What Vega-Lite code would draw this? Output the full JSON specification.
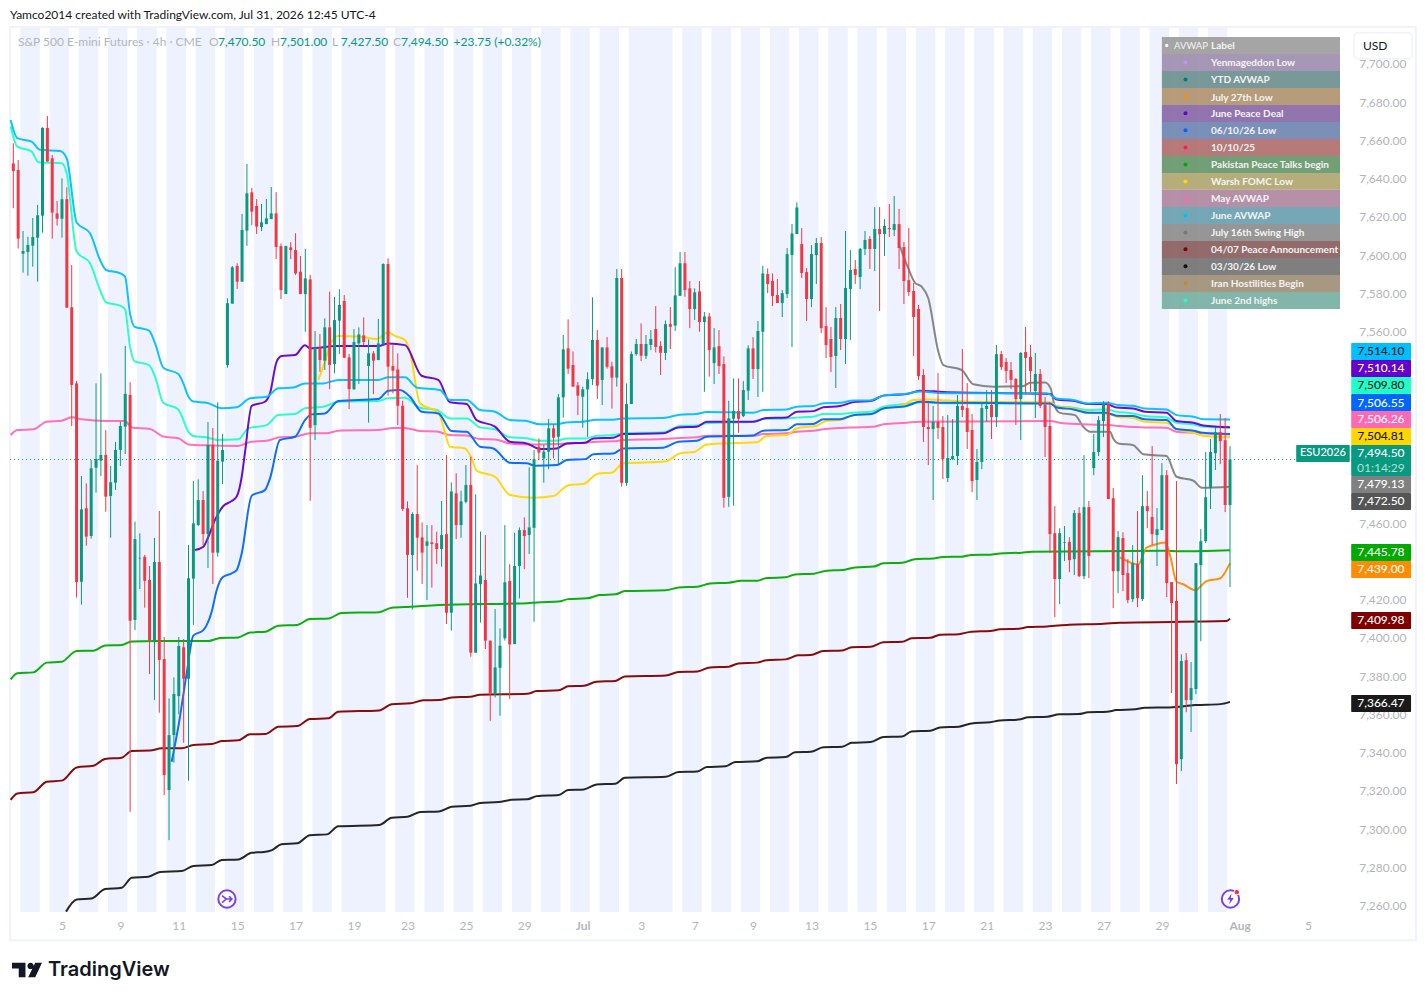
{
"$schema":"https://vega.github.io/schema/vega-lite/v6.json",
"width":1426,"height":1000,"padding":0,
"autosize":{"type":"fit","contains":"padding"},
"background":"#ffffff",
"config":{"view":{"stroke":null},"legend":{"disable":true}},
"datasets":{
"sessions":[{"i":1.45,"i2":5.45,"p":7718.8,"p2":7256.6},{"i":7.45,"i2":11.45,"p":7718.8,"p2":7256.6},{"i":13.45,"i2":17.45,"p":7718.8,"p2":7256.6},{"i":19.45,"i2":23.45,"p":7718.8,"p2":7256.6},{"i":25.45,"i2":29.45,"p":7718.8,"p2":7256.6},{"i":31.45,"i2":35.45,"p":7718.8,"p2":7256.6},{"i":37.45,"i2":41.45,"p":7718.8,"p2":7256.6},{"i":43.45,"i2":47.45,"p":7718.8,"p2":7256.6},{"i":49.45,"i2":53.45,"p":7718.8,"p2":7256.6},{"i":55.45,"i2":59.45,"p":7718.8,"p2":7256.6},{"i":61.45,"i2":65.45,"p":7718.8,"p2":7256.6},{"i":67.45,"i2":76.45,"p":7718.8,"p2":7256.6},{"i":78.45,"i2":82.45,"p":7718.8,"p2":7256.6},{"i":84.45,"i2":88.45,"p":7718.8,"p2":7256.6},{"i":90.45,"i2":94.45,"p":7718.8,"p2":7256.6},{"i":96.45,"i2":100.45,"p":7718.8,"p2":7256.6},{"i":102.45,"i2":106.45,"p":7718.8,"p2":7256.6},{"i":108.45,"i2":112.45,"p":7718.8,"p2":7256.6},{"i":114.45,"i2":118.45,"p":7718.8,"p2":7256.6},{"i":120.45,"i2":124.45,"p":7718.8,"p2":7256.6},{"i":126.45,"i2":135.45,"p":7718.8,"p2":7256.6},{"i":137.45,"i2":141.45,"p":7718.8,"p2":7256.6},{"i":143.45,"i2":147.45,"p":7718.8,"p2":7256.6},{"i":149.45,"i2":153.45,"p":7718.8,"p2":7256.6},{"i":155.45,"i2":159.45,"p":7718.8,"p2":7256.6},{"i":161.45,"i2":165.45,"p":7718.8,"p2":7256.6},{"i":167.45,"i2":171.45,"p":7718.8,"p2":7256.6},{"i":173.45,"i2":177.45,"p":7718.8,"p2":7256.6},{"i":179.45,"i2":183.45,"p":7718.8,"p2":7256.6},{"i":185.45,"i2":189.45,"p":7718.8,"p2":7256.6},{"i":191.45,"i2":195.45,"p":7718.8,"p2":7256.6},{"i":197.45,"i2":201.45,"p":7718.8,"p2":7256.6},{"i":203.45,"i2":207.45,"p":7718.8,"p2":7256.6},{"i":209.45,"i2":213.45,"p":7718.8,"p2":7256.6},{"i":215.45,"i2":219.45,"p":7718.8,"p2":7256.6},{"i":221.45,"i2":225.45,"p":7718.8,"p2":7256.6},{"i":227.45,"i2":231.45,"p":7718.8,"p2":7256.6},{"i":233.45,"i2":237.45,"p":7718.8,"p2":7256.6},{"i":239.45,"i2":243.45,"p":7718.8,"p2":7256.6},{"i":245.45,"i2":249.45,"p":7718.8,"p2":7256.6}],
"bars":[
{"i":0,"o":7648,"h":7658.5,"l":7624.6,"c":7644},
{"i":1,"o":7644.6,"h":7649.8,"l":7603.5,"c":7608.7},
{"i":2,"o":7600.8,"h":7612.7,"l":7590.9,"c":7602.2},
{"i":3,"o":7601.7,"h":7609.7,"l":7589.3,"c":7605.4},
{"i":4,"o":7605,"h":7619.5,"l":7594,"c":7609.5},
{"i":5,"o":7609.2,"h":7626.3,"l":7586.2,"c":7620.9},
{"i":6,"o":7620.7,"h":7666.9,"l":7611.8,"c":7666.6},
{"i":7,"o":7666.6,"h":7672.8,"l":7649,"c":7649},
{"i":8,"o":7650.7,"h":7652.4,"l":7608.7,"c":7622.3},
{"i":9,"o":7621.9,"h":7628.4,"l":7615.5,"c":7619.1},
{"i":10,"o":7619.1,"h":7640.2,"l":7609.2,"c":7629.3},
{"i":11,"o":7629.3,"h":7635.5,"l":7572.6,"c":7572.6},
{"i":12,"o":7572.8,"h":7594.9,"l":7510.7,"c":7532.2},
{"i":13,"o":7533,"h":7534.3,"l":7421,"c":7429.1},
{"i":14,"o":7429.3,"h":7484.6,"l":7417.3,"c":7467.1},
{"i":15,"o":7467.7,"h":7480.7,"l":7448.1,"c":7452.9},
{"i":16,"o":7453.2,"h":7492.9,"l":7451.8,"c":7488.6},
{"i":17,"o":7488.9,"h":7533,"l":7475.9,"c":7493.5},
{"i":18,"o":7492.6,"h":7538.3,"l":7484.6,"c":7495.6},
{"i":19,"o":7495.6,"h":7508.6,"l":7465.9,"c":7473.8},
{"i":20,"o":7474.1,"h":7489.8,"l":7452.3,"c":7481.3},
{"i":21,"o":7481.1,"h":7502.4,"l":7477.3,"c":7498.2},
{"i":22,"o":7498.2,"h":7513,"l":7489.8,"c":7510.7},
{"i":23,"o":7510.4,"h":7552.6,"l":7496.1,"c":7527.5},
{"i":24,"o":7527,"h":7533.7,"l":7309,"c":7408.9},
{"i":25,"o":7409.3,"h":7460.7,"l":7404,"c":7451.6},
{"i":26,"o":7441.5,"h":7454.6,"l":7425.5,"c":7441.8},
{"i":27,"o":7442.4,"h":7443.3,"l":7415.7,"c":7429.8},
{"i":28,"o":7430.2,"h":7437.5,"l":7381,"c":7398.8},
{"i":29,"o":7398.8,"h":7452.2,"l":7367.4,"c":7439.6},
{"i":30,"o":7439.6,"h":7466.3,"l":7360.8,"c":7388.4},
{"i":31,"o":7388.9,"h":7400.4,"l":7317.8,"c":7328.2},
{"i":32,"o":7320.4,"h":7368.3,"l":7294.2,"c":7349.1},
{"i":33,"o":7349.1,"h":7379.3,"l":7334.7,"c":7370.6},
{"i":34,"o":7369.5,"h":7400.4,"l":7360,"c":7395.7},
{"i":35,"o":7395,"h":7399.3,"l":7345.1,"c":7378.6},
{"i":36,"o":7378.6,"h":7448.5,"l":7325.3,"c":7431.1},
{"i":37,"o":7430.9,"h":7482,"l":7406.7,"c":7459.8},
{"i":38,"o":7459,"h":7482.8,"l":7458.4,"c":7472},
{"i":39,"o":7472,"h":7476.7,"l":7448.5,"c":7454.2},
{"i":40,"o":7454.2,"h":7512.8,"l":7436.5,"c":7500.8},
{"i":41,"o":7500.8,"h":7509.7,"l":7428.1,"c":7444.5},
{"i":42,"o":7444.5,"h":7523.1,"l":7442.4,"c":7492.6},
{"i":43,"o":7492.1,"h":7506.6,"l":7480.4,"c":7498.2},
{"i":44,"o":7542.6,"h":7577.5,"l":7541.2,"c":7574.9},
{"i":45,"o":7574.7,"h":7594.4,"l":7574.7,"c":7593.7},
{"i":46,"o":7594.4,"h":7595.8,"l":7582.4,"c":7586.2},
{"i":47,"o":7586.2,"h":7621.6,"l":7586.2,"c":7613.2},
{"i":48,"o":7612.9,"h":7647.7,"l":7604.9,"c":7632.4},
{"i":49,"o":7632.9,"h":7635.2,"l":7615.8,"c":7622.8},
{"i":50,"o":7625.8,"h":7629.4,"l":7611.1,"c":7615},
{"i":51,"o":7614.8,"h":7626.8,"l":7612.6,"c":7617.2},
{"i":52,"o":7616.3,"h":7629.4,"l":7616.3,"c":7619.3},
{"i":53,"o":7618.9,"h":7635.7,"l":7618.9,"c":7621.9},
{"i":54,"o":7621.9,"h":7633,"l":7598,"c":7604.3},
{"i":55,"o":7604.8,"h":7606.2,"l":7577.1,"c":7581.8},
{"i":56,"o":7579.7,"h":7605,"l":7579.7,"c":7604.8},
{"i":57,"o":7604.1,"h":7606.8,"l":7598,"c":7602.7},
{"i":58,"o":7602.7,"h":7611.5,"l":7589.7,"c":7590.5},
{"i":59,"o":7591.4,"h":7599.6,"l":7579.7,"c":7579.7},
{"i":60,"o":7579.7,"h":7603.3,"l":7560,"c":7587.9},
{"i":61,"o":7587.4,"h":7589.7,"l":7471.6,"c":7509.8},
{"i":62,"o":7511.2,"h":7560.4,"l":7503.4,"c":7551.8},
{"i":63,"o":7551.8,"h":7558.8,"l":7539.1,"c":7545.2},
{"i":64,"o":7544.9,"h":7567,"l":7540,"c":7562.3},
{"i":65,"o":7562.3,"h":7581,"l":7530,"c":7542.6},
{"i":66,"o":7543.1,"h":7578.3,"l":7538.2,"c":7566.1},
{"i":67,"o":7565.8,"h":7582.2,"l":7548.4,"c":7574},
{"i":68,"o":7576.1,"h":7579.2,"l":7546.4,"c":7546.4},
{"i":69,"o":7546.6,"h":7548.4,"l":7519.6,"c":7530},
{"i":70,"o":7530,"h":7561.4,"l":7529.5,"c":7554.6},
{"i":71,"o":7553.9,"h":7562.3,"l":7532.7,"c":7558.6},
{"i":72,"o":7558.1,"h":7567.5,"l":7552.9,"c":7554.6},
{"i":73,"o":7542.1,"h":7556,"l":7512.5,"c":7548.7},
{"i":74,"o":7548.7,"h":7549.9,"l":7527.4,"c":7544.9},
{"i":75,"o":7545.2,"h":7566.7,"l":7545.2,"c":7553.9},
{"i":76,"o":7553.4,"h":7595.8,"l":7553.4,"c":7595.4},
{"i":77,"o":7595.4,"h":7598.4,"l":7526.6,"c":7541.7},
{"i":78,"o":7542.1,"h":7553,"l":7527.8,"c":7539.6},
{"i":79,"o":7540.3,"h":7548.7,"l":7511.2,"c":7521.3},
{"i":80,"o":7521.3,"h":7524,"l":7466.3,"c":7467.3},
{"i":81,"o":7467.7,"h":7471.3,"l":7420.9,"c":7443.3},
{"i":82,"o":7443.3,"h":7465.6,"l":7414.8,"c":7464.7},
{"i":83,"o":7464.7,"h":7490.3,"l":7435.1,"c":7452.3},
{"i":84,"o":7452.5,"h":7460.3,"l":7428.1,"c":7444.5},
{"i":85,"o":7448.1,"h":7458.9,"l":7419.7,"c":7450.4},
{"i":86,"o":7449.9,"h":7458.9,"l":7426.2,"c":7449},
{"i":87,"o":7449.4,"h":7455.5,"l":7438.6,"c":7446.4},
{"i":88,"o":7446.4,"h":7471.5,"l":7437.2,"c":7453.7},
{"i":89,"o":7454.2,"h":7495.5,"l":7407.2,"c":7413.1},
{"i":90,"o":7413.1,"h":7481.3,"l":7403.7,"c":7476.5},
{"i":91,"o":7475.5,"h":7486,"l":7451.6,"c":7458.9},
{"i":92,"o":7458.9,"h":7476.9,"l":7452.3,"c":7471.3},
{"i":93,"o":7471.1,"h":7490.3,"l":7470.3,"c":7479.9},
{"i":94,"o":7479.9,"h":7494.7,"l":7390.1,"c":7392.2},
{"i":95,"o":7392.2,"h":7475,"l":7392.2,"c":7428.4},
{"i":96,"o":7428,"h":7455.5,"l":7407.9,"c":7432.6},
{"i":97,"o":7430.2,"h":7453.7,"l":7394.1,"c":7398.5},
{"i":98,"o":7398.5,"h":7398.5,"l":7356.6,"c":7370.9},
{"i":99,"o":7370.9,"h":7415,"l":7368.8,"c":7384.5},
{"i":100,"o":7384.3,"h":7404.9,"l":7359.2,"c":7395.8},
{"i":101,"o":7399.7,"h":7458.9,"l":7398.5,"c":7429},
{"i":102,"o":7429.7,"h":7438.4,"l":7368,"c":7396.5},
{"i":103,"o":7396.7,"h":7454.9,"l":7396.7,"c":7437.5},
{"i":104,"o":7437.5,"h":7457.7,"l":7420.6,"c":7456.3},
{"i":105,"o":7456.3,"h":7463,"l":7435.9,"c":7453.2},
{"i":106,"o":7453.7,"h":7489.1,"l":7443.8,"c":7457.7},
{"i":107,"o":7457.5,"h":7498.2,"l":7408.4,"c":7493.3},
{"i":108,"o":7499.9,"h":7504.3,"l":7492.9,"c":7496.8},
{"i":109,"o":7493.8,"h":7500.8,"l":7481.1,"c":7497.3},
{"i":110,"o":7497.3,"h":7514.4,"l":7488.1,"c":7509.5},
{"i":111,"o":7509.5,"h":7511.7,"l":7493.8,"c":7504.6},
{"i":112,"o":7505.1,"h":7527.4,"l":7490.3,"c":7525.7},
{"i":113,"o":7525.7,"h":7558.3,"l":7515.1,"c":7550.8},
{"i":114,"o":7551.3,"h":7566.5,"l":7537.9,"c":7540.7},
{"i":115,"o":7542.6,"h":7549.7,"l":7531.3,"c":7531.3},
{"i":116,"o":7532,"h":7533.7,"l":7516.4,"c":7526.6},
{"i":117,"o":7526,"h":7531.3,"l":7509.8,"c":7529.9},
{"i":118,"o":7529.9,"h":7538.8,"l":7505.1,"c":7535.1},
{"i":119,"o":7535.3,"h":7578,"l":7532.1,"c":7555.7},
{"i":120,"o":7555.7,"h":7560.9,"l":7524.8,"c":7531.8},
{"i":121,"o":7534.8,"h":7551.8,"l":7521.7,"c":7551.8},
{"i":122,"o":7551.8,"h":7557.2,"l":7540.7,"c":7541.7},
{"i":123,"o":7541.9,"h":7544.3,"l":7519.8,"c":7536},
{"i":124,"o":7536,"h":7592.8,"l":7531.3,"c":7588.1},
{"i":125,"o":7588.1,"h":7592.8,"l":7479,"c":7481},
{"i":126,"o":7481,"h":7533,"l":7479.5,"c":7522.2},
{"i":127,"o":7522.2,"h":7549.7,"l":7522.2,"c":7548.3},
{"i":128,"o":7548.3,"h":7556.2,"l":7547.5,"c":7553.6},
{"i":129,"o":7553.6,"h":7564.4,"l":7544.7,"c":7547.5},
{"i":130,"o":7547.3,"h":7558.3,"l":7545.7,"c":7553.6},
{"i":131,"o":7553.1,"h":7560.9,"l":7550.4,"c":7556.2},
{"i":132,"o":7561.4,"h":7573.4,"l":7549.2,"c":7552},
{"i":133,"o":7552.5,"h":7555.1,"l":7537.4,"c":7549},
{"i":134,"o":7548.9,"h":7565.9,"l":7545.2,"c":7564},
{"i":135,"o":7564,"h":7572.9,"l":7551,"c":7562.6},
{"i":136,"o":7563.2,"h":7593.8,"l":7560.4,"c":7579},
{"i":137,"o":7578.8,"h":7601.7,"l":7578.8,"c":7595.8},
{"i":138,"o":7595.8,"h":7601.7,"l":7578.3,"c":7581.8},
{"i":139,"o":7582.7,"h":7586.5,"l":7561.9,"c":7571.9},
{"i":140,"o":7571.9,"h":7582.7,"l":7566.1,"c":7580.6},
{"i":141,"o":7581.1,"h":7586.5,"l":7560,"c":7565.1},
{"i":142,"o":7565.1,"h":7570.3,"l":7528.6,"c":7568},
{"i":143,"o":7568,"h":7569.8,"l":7536.5,"c":7550.4},
{"i":144,"o":7543.6,"h":7561.9,"l":7532.7,"c":7551.8},
{"i":145,"o":7552.5,"h":7560.9,"l":7537.9,"c":7542.1},
{"i":146,"o":7543.1,"h":7547.1,"l":7468,"c":7473.2},
{"i":147,"o":7473.7,"h":7523.9,"l":7468.5,"c":7514.7},
{"i":148,"o":7514.5,"h":7535.6,"l":7469,"c":7518.5},
{"i":149,"o":7518.5,"h":7535.6,"l":7507.2,"c":7514.5},
{"i":150,"o":7515.9,"h":7534.2,"l":7515.4,"c":7529.5},
{"i":151,"o":7529.2,"h":7552.9,"l":7524.3,"c":7551.3},
{"i":152,"o":7551.3,"h":7557.2,"l":7535.3,"c":7540.5},
{"i":153,"o":7540.5,"h":7565.6,"l":7525.9,"c":7560.4},
{"i":154,"o":7560,"h":7594.4,"l":7528.6,"c":7590.5},
{"i":155,"o":7590.2,"h":7593.1,"l":7580.2,"c":7585},
{"i":156,"o":7586.5,"h":7590.5,"l":7573.4,"c":7578.7},
{"i":157,"o":7579.2,"h":7587.6,"l":7575,"c":7575},
{"i":158,"o":7575,"h":7581.8,"l":7567.7,"c":7580.2},
{"i":159,"o":7579.7,"h":7603.8,"l":7577.6,"c":7600.6},
{"i":160,"o":7600.1,"h":7616.3,"l":7552,"c":7611.4},
{"i":161,"o":7611.1,"h":7627.6,"l":7611.1,"c":7625},
{"i":162,"o":7605.9,"h":7614.2,"l":7588.1,"c":7590.7},
{"i":163,"o":7591.2,"h":7593.3,"l":7565.6,"c":7577.1},
{"i":164,"o":7577.1,"h":7605.3,"l":7572.9,"c":7600.6},
{"i":165,"o":7600.1,"h":7609,"l":7585,"c":7606.4},
{"i":166,"o":7606.4,"h":7609.5,"l":7559.3,"c":7561.9},
{"i":167,"o":7563,"h":7572.9,"l":7546.3,"c":7553},
{"i":168,"o":7556.2,"h":7562.5,"l":7538.9,"c":7546.8},
{"i":169,"o":7547.3,"h":7572.9,"l":7530.6,"c":7567.2},
{"i":170,"o":7567.2,"h":7574.5,"l":7550.4,"c":7556.2},
{"i":171,"o":7556.2,"h":7612.7,"l":7543.1,"c":7582.9},
{"i":172,"o":7582.3,"h":7602.7,"l":7555.7,"c":7592.3},
{"i":173,"o":7592.8,"h":7597.5,"l":7585,"c":7589.7},
{"i":174,"o":7588.6,"h":7603.8,"l":7582.3,"c":7603.3},
{"i":175,"o":7603.3,"h":7612.7,"l":7600.1,"c":7608},
{"i":176,"o":7608.5,"h":7610,"l":7592.8,"c":7603.3},
{"i":177,"o":7603.3,"h":7625.2,"l":7591.7,"c":7613.7},
{"i":178,"o":7613.7,"h":7625.2,"l":7570.8,"c":7611.1},
{"i":179,"o":7611.1,"h":7618.9,"l":7599.6,"c":7615.3},
{"i":180,"o":7614.2,"h":7626.8,"l":7609.5,"c":7613.7},
{"i":181,"o":7613.2,"h":7631,"l":7610,"c":7616.3},
{"i":182,"o":7616.3,"h":7624.2,"l":7592.8,"c":7603.8},
{"i":183,"o":7604.3,"h":7606.9,"l":7574.5,"c":7586.5},
{"i":184,"o":7587,"h":7614.2,"l":7578.7,"c":7580.8},
{"i":185,"o":7581.3,"h":7585.5,"l":7547.3,"c":7567.7},
{"i":186,"o":7571.9,"h":7574,"l":7534.8,"c":7536.8},
{"i":187,"o":7537.4,"h":7540.5,"l":7502.3,"c":7510.2},
{"i":188,"o":7510.2,"h":7522.7,"l":7490.3,"c":7509.1},
{"i":189,"o":7509.1,"h":7521.2,"l":7472,"c":7512.8},
{"i":190,"o":7512.8,"h":7538.4,"l":7503.9,"c":7509.7},
{"i":191,"o":7510.2,"h":7515.9,"l":7483,"c":7493.4},
{"i":192,"o":7483.5,"h":7516.4,"l":7481.4,"c":7494},
{"i":193,"o":7493.4,"h":7514.4,"l":7492.9,"c":7495},
{"i":194,"o":7495,"h":7526.9,"l":7490.3,"c":7521.2},
{"i":195,"o":7521.2,"h":7551,"l":7515.4,"c":7519.1},
{"i":196,"o":7520.1,"h":7533.2,"l":7498.7,"c":7507.6},
{"i":197,"o":7508.6,"h":7517,"l":7476.2,"c":7481.9},
{"i":198,"o":7482.5,"h":7498.7,"l":7472,"c":7491.9},
{"i":199,"o":7491.9,"h":7522.7,"l":7488.2,"c":7520.1},
{"i":200,"o":7519.6,"h":7529.5,"l":7512.8,"c":7521.2},
{"i":201,"o":7521.7,"h":7529.5,"l":7503.9,"c":7515.4},
{"i":202,"o":7515.4,"h":7553.1,"l":7510.2,"c":7548.3},
{"i":203,"o":7548.3,"h":7549.9,"l":7540,"c":7541.5},
{"i":204,"o":7544.2,"h":7546.3,"l":7533.2,"c":7539.5},
{"i":205,"o":7540,"h":7544.2,"l":7530,"c":7534.8},
{"i":206,"o":7535.3,"h":7535.8,"l":7511.2,"c":7524.8},
{"i":207,"o":7524.8,"h":7549.4,"l":7503.4,"c":7548.9},
{"i":208,"o":7549.4,"h":7562.5,"l":7527.9,"c":7546.3},
{"i":209,"o":7546.8,"h":7553.1,"l":7528.5,"c":7539.5},
{"i":210,"o":7529,"h":7548.9,"l":7514.9,"c":7537.9},
{"i":211,"o":7537.9,"h":7540.5,"l":7520.1,"c":7521.2},
{"i":212,"o":7521.7,"h":7525.9,"l":7494.5,"c":7510.2},
{"i":213,"o":7510.7,"h":7523.2,"l":7444.3,"c":7454.2},
{"i":214,"o":7454.7,"h":7468.8,"l":7410.8,"c":7430.7},
{"i":215,"o":7430.7,"h":7457.3,"l":7417.6,"c":7454.7},
{"i":216,"o":7449.7,"h":7458.4,"l":7440.1,"c":7450},
{"i":217,"o":7450,"h":7452.6,"l":7434.3,"c":7440.6},
{"i":218,"o":7441.1,"h":7466.8,"l":7432.8,"c":7465.2},
{"i":219,"o":7465.2,"h":7468.3,"l":7431.7,"c":7432.2},
{"i":220,"o":7432.2,"h":7495.5,"l":7430.7,"c":7468.3},
{"i":221,"o":7468.3,"h":7471.5,"l":7431.2,"c":7442.7},
{"i":222,"o":7488.7,"h":7506.5,"l":7485,"c":7497.1},
{"i":223,"o":7497.1,"h":7515.9,"l":7495,"c":7513.8},
{"i":224,"o":7513.3,"h":7523.7,"l":7504.9,"c":7522.2},
{"i":225,"o":7522.2,"h":7523.7,"l":7472.5,"c":7472.5},
{"i":226,"o":7473,"h":7478.3,"l":7415.5,"c":7434.8},
{"i":227,"o":7434.8,"h":7455.8,"l":7423.3,"c":7452.6},
{"i":228,"o":7452.1,"h":7455.2,"l":7424.4,"c":7432.8},
{"i":229,"o":7433.8,"h":7441.1,"l":7418.1,"c":7419.7},
{"i":230,"o":7420.2,"h":7448.4,"l":7418.6,"c":7439},
{"i":231,"o":7438.5,"h":7466.2,"l":7416,"c":7420.7},
{"i":232,"o":7420.2,"h":7485,"l":7419.2,"c":7468.8},
{"i":233,"o":7468.8,"h":7476.7,"l":7457.3,"c":7466.2},
{"i":234,"o":7463.1,"h":7500.2,"l":7448.4,"c":7454.2},
{"i":235,"o":7453.7,"h":7467.8,"l":7437.5,"c":7456.8},
{"i":236,"o":7456.3,"h":7491.3,"l":7456.3,"c":7485},
{"i":237,"o":7485,"h":7487.7,"l":7421.3,"c":7428.6},
{"i":238,"o":7429.1,"h":7429.1,"l":7371.1,"c":7418.1},
{"i":239,"o":7419.2,"h":7481.9,"l":7323.5,"c":7333.9},
{"i":240,"o":7336.5,"h":7391.4,"l":7330.3,"c":7387.8},
{"i":241,"o":7388.3,"h":7392,"l":7361.1,"c":7367.4},
{"i":242,"o":7367.4,"h":7387.3,"l":7350.7,"c":7373.7},
{"i":243,"o":7373.2,"h":7439,"l":7370.5,"c":7439},
{"i":244,"o":7438,"h":7456.8,"l":7398.2,"c":7450.5},
{"i":245,"o":7450.5,"h":7497.1,"l":7449.5,"c":7473.5},
{"i":246,"o":7478.3,"h":7503.9,"l":7467.3,"c":7497.1},
{"i":247,"o":7496.5,"h":7510.1,"l":7487.7,"c":7507.5},
{"i":248,"o":7507.5,"h":7517,"l":7490.8,"c":7502.8},
{"i":249,"o":7503.3,"h":7514.9,"l":7465.7,"c":7469.4},
{"i":250,"o":7469.4,"h":7500.2,"l":7426.5,"c":7493.2}
],
"lines":[
{"name":"Pakistan Peace Talks begin","i":-0.54,"p":7378.3},{"name":"Pakistan Peace Talks begin","i":0.83,"p":7381.4},{"name":"Pakistan Peace Talks begin","i":4.12,"p":7381.9},{"name":"Pakistan Peace Talks begin","i":6.86,"p":7387},{"name":"Pakistan Peace Talks begin","i":9.94,"p":7387.5},{"name":"Pakistan Peace Talks begin","i":13.02,"p":7393.1},{"name":"Pakistan Peace Talks begin","i":16.45,"p":7393.2},{"name":"Pakistan Peace Talks begin","i":18.85,"p":7395.9},{"name":"Pakistan Peace Talks begin","i":22.27,"p":7396.2},{"name":"Pakistan Peace Talks begin","i":24.33,"p":7398.1},{"name":"Pakistan Peace Talks begin","i":29.46,"p":7398.3},{"name":"Pakistan Peace Talks begin","i":40.08,"p":7398.3},{"name":"Pakistan Peace Talks begin","i":42.47,"p":7399.9},{"name":"Pakistan Peace Talks begin","i":46.24,"p":7400.2},{"name":"Pakistan Peace Talks begin","i":48.64,"p":7402.7},{"name":"Pakistan Peace Talks begin","i":51.87,"p":7403.2},{"name":"Pakistan Peace Talks begin","i":54.46,"p":7406.3},{"name":"Pakistan Peace Talks begin","i":58.34,"p":7406.7},{"name":"Pakistan Peace Talks begin","i":60.93,"p":7409.8},{"name":"Pakistan Peace Talks begin","i":64.81,"p":7410.1},{"name":"Pakistan Peace Talks begin","i":67.4,"p":7412.9},{"name":"Pakistan Peace Talks begin","i":75.17,"p":7413.4},{"name":"Pakistan Peace Talks begin","i":77.76,"p":7415.7},{"name":"Pakistan Peace Talks begin","i":81.64,"p":7416.2},{"name":"Pakistan Peace Talks begin","i":87.47,"p":7417.1},{"name":"Pakistan Peace Talks begin","i":101.71,"p":7417.8},{"name":"Pakistan Peace Talks begin","i":105.6,"p":7418},{"name":"Pakistan Peace Talks begin","i":107.54,"p":7418.5},{"name":"Pakistan Peace Talks begin","i":112.07,"p":7418.9},{"name":"Pakistan Peace Talks begin","i":114.01,"p":7420.2},{"name":"Pakistan Peace Talks begin","i":117.9,"p":7420.6},{"name":"Pakistan Peace Talks begin","i":120.48,"p":7422.3},{"name":"Pakistan Peace Talks begin","i":123.72,"p":7422.7},{"name":"Pakistan Peace Talks begin","i":125.66,"p":7424.4},{"name":"Pakistan Peace Talks begin","i":134.08,"p":7424.8},{"name":"Pakistan Peace Talks begin","i":136.67,"p":7426.3},{"name":"Pakistan Peace Talks begin","i":140.55,"p":7426.7},{"name":"Pakistan Peace Talks begin","i":143.14,"p":7428.4},{"name":"Pakistan Peace Talks begin","i":147.03,"p":7428.8},{"name":"Pakistan Peace Talks begin","i":149.61,"p":7429.8},{"name":"Pakistan Peace Talks begin","i":152.85,"p":7429.8},{"name":"Pakistan Peace Talks begin","i":154.79,"p":7431.2},{"name":"Pakistan Peace Talks begin","i":158.68,"p":7431.6},{"name":"Pakistan Peace Talks begin","i":160.62,"p":7433.1},{"name":"Pakistan Peace Talks begin","i":164.5,"p":7433.5},{"name":"Pakistan Peace Talks begin","i":167.09,"p":7435.1},{"name":"Pakistan Peace Talks begin","i":170.33,"p":7435.4},{"name":"Pakistan Peace Talks begin","i":172.92,"p":7436.8},{"name":"Pakistan Peace Talks begin","i":176.8,"p":7437.2},{"name":"Pakistan Peace Talks begin","i":178.75,"p":7438.9},{"name":"Pakistan Peace Talks begin","i":182.63,"p":7439.2},{"name":"Pakistan Peace Talks begin","i":185.22,"p":7441},{"name":"Pakistan Peace Talks begin","i":189.1,"p":7441.5},{"name":"Pakistan Peace Talks begin","i":191.04,"p":7442.2},{"name":"Pakistan Peace Talks begin","i":194.93,"p":7442.4},{"name":"Pakistan Peace Talks begin","i":196.87,"p":7443.3},{"name":"Pakistan Peace Talks begin","i":200.75,"p":7443.4},{"name":"Pakistan Peace Talks begin","i":202.7,"p":7444.1},{"name":"Pakistan Peace Talks begin","i":207.2,"p":7444.5},{"name":"Pakistan Peace Talks begin","i":209.17,"p":7445},{"name":"Pakistan Peace Talks begin","i":236.36,"p":7445.5},{"name":"Pakistan Peace Talks begin","i":239.6,"p":7445.2},{"name":"Pakistan Peace Talks begin","i":250,"p":7445.8},
{"name":"04/07 Peace Announcement","i":-0.54,"p":7315.2},{"name":"04/07 Peace Announcement","i":0.83,"p":7318.6},{"name":"04/07 Peace Announcement","i":4.12,"p":7319.2},{"name":"04/07 Peace Announcement","i":6.86,"p":7324.7},{"name":"04/07 Peace Announcement","i":9.94,"p":7325.3},{"name":"04/07 Peace Announcement","i":13.02,"p":7332.2},{"name":"04/07 Peace Announcement","i":16.45,"p":7333.1},{"name":"04/07 Peace Announcement","i":18.85,"p":7336.6},{"name":"04/07 Peace Announcement","i":22.27,"p":7337.3},{"name":"04/07 Peace Announcement","i":24.33,"p":7340.8},{"name":"04/07 Peace Announcement","i":28.09,"p":7341},{"name":"04/07 Peace Announcement","i":30.49,"p":7342.2},{"name":"04/07 Peace Announcement","i":34.6,"p":7342.2},{"name":"04/07 Peace Announcement","i":36.99,"p":7343.9},{"name":"04/07 Peace Announcement","i":40.76,"p":7344.4},{"name":"04/07 Peace Announcement","i":42.82,"p":7346},{"name":"04/07 Peace Announcement","i":46.24,"p":7346.4},{"name":"04/07 Peace Announcement","i":48.63,"p":7349.5},{"name":"04/07 Peace Announcement","i":51.87,"p":7349.7},{"name":"04/07 Peace Announcement","i":54.46,"p":7353.5},{"name":"04/07 Peace Announcement","i":58.34,"p":7353.8},{"name":"04/07 Peace Announcement","i":60.93,"p":7357.5},{"name":"04/07 Peace Announcement","i":64.81,"p":7357.9},{"name":"04/07 Peace Announcement","i":66.76,"p":7361.3},{"name":"04/07 Peace Announcement","i":75.17,"p":7362},{"name":"04/07 Peace Announcement","i":77.76,"p":7365.2},{"name":"04/07 Peace Announcement","i":81.64,"p":7365.7},{"name":"04/07 Peace Announcement","i":84.23,"p":7367.3},{"name":"04/07 Peace Announcement","i":87.47,"p":7367.4},{"name":"04/07 Peace Announcement","i":90.06,"p":7368.8},{"name":"04/07 Peace Announcement","i":93.94,"p":7369.2},{"name":"04/07 Peace Announcement","i":95.89,"p":7370.2},{"name":"04/07 Peace Announcement","i":105.6,"p":7370.7},{"name":"04/07 Peace Announcement","i":107.54,"p":7372.1},{"name":"04/07 Peace Announcement","i":112.07,"p":7372.5},{"name":"04/07 Peace Announcement","i":114.01,"p":7374.6},{"name":"04/07 Peace Announcement","i":117.25,"p":7374.9},{"name":"04/07 Peace Announcement","i":119.84,"p":7377},{"name":"04/07 Peace Announcement","i":123.72,"p":7377.4},{"name":"04/07 Peace Announcement","i":125.66,"p":7379.8},{"name":"04/07 Peace Announcement","i":134.08,"p":7380.3},{"name":"04/07 Peace Announcement","i":136.67,"p":7382.1},{"name":"04/07 Peace Announcement","i":140.55,"p":7382.4},{"name":"04/07 Peace Announcement","i":143.14,"p":7384.5},{"name":"04/07 Peace Announcement","i":147.03,"p":7384.9},{"name":"04/07 Peace Announcement","i":148.97,"p":7386.6},{"name":"04/07 Peace Announcement","i":152.85,"p":7387},{"name":"04/07 Peace Announcement","i":154.79,"p":7388.3},{"name":"04/07 Peace Announcement","i":158.68,"p":7388.7},{"name":"04/07 Peace Announcement","i":161.27,"p":7390.8},{"name":"04/07 Peace Announcement","i":163.85,"p":7391},{"name":"04/07 Peace Announcement","i":166.44,"p":7393.1},{"name":"04/07 Peace Announcement","i":170.33,"p":7393.4},{"name":"04/07 Peace Announcement","i":172.27,"p":7395},{"name":"04/07 Peace Announcement","i":176.15,"p":7395.3},{"name":"04/07 Peace Announcement","i":178.74,"p":7397.6},{"name":"04/07 Peace Announcement","i":182.63,"p":7397.9},{"name":"04/07 Peace Announcement","i":184.57,"p":7399.7},{"name":"04/07 Peace Announcement","i":188.45,"p":7400},{"name":"04/07 Peace Announcement","i":190.4,"p":7401.6},{"name":"04/07 Peace Announcement","i":194.28,"p":7401.9},{"name":"04/07 Peace Announcement","i":196.87,"p":7403.2},{"name":"04/07 Peace Announcement","i":200.75,"p":7403.5},{"name":"04/07 Peace Announcement","i":202.7,"p":7404.4},{"name":"04/07 Peace Announcement","i":206.58,"p":7404.7},{"name":"04/07 Peace Announcement","i":208.52,"p":7405.6},{"name":"04/07 Peace Announcement","i":212.41,"p":7405.9},{"name":"04/07 Peace Announcement","i":216.94,"p":7406.8},{"name":"04/07 Peace Announcement","i":224.06,"p":7407.3},{"name":"04/07 Peace Announcement","i":227.3,"p":7407.9},{"name":"04/07 Peace Announcement","i":249.3,"p":7408.7},{"name":"04/07 Peace Announcement","i":250,"p":7410},
{"name":"03/30/26 Low","i":10.83,"p":7256.8},{"name":"03/30/26 Low","i":13.02,"p":7263.2},{"name":"03/30/26 Low","i":16.1,"p":7263.7},{"name":"03/30/26 Low","i":18.85,"p":7268.6},{"name":"03/30/26 Low","i":22.27,"p":7269.3},{"name":"03/30/26 Low","i":24.33,"p":7274.5},{"name":"03/30/26 Low","i":27.75,"p":7275.1},{"name":"03/30/26 Low","i":30.15,"p":7277.5},{"name":"03/30/26 Low","i":34.6,"p":7278},{"name":"03/30/26 Low","i":36.99,"p":7280.7},{"name":"03/30/26 Low","i":40.76,"p":7281.2},{"name":"03/30/26 Low","i":42.82,"p":7283.8},{"name":"03/30/26 Low","i":46.24,"p":7284.1},{"name":"03/30/26 Low","i":48.98,"p":7287.6},{"name":"03/30/26 Low","i":51.5,"p":7288},{"name":"03/30/26 Low","i":53.16,"p":7289},{"name":"03/30/26 Low","i":55.1,"p":7292},{"name":"03/30/26 Low","i":58.34,"p":7292.5},{"name":"03/30/26 Low","i":60.93,"p":7296.8},{"name":"03/30/26 Low","i":64.42,"p":7297.2},{"name":"03/30/26 Low","i":66.76,"p":7301.4},{"name":"03/30/26 Low","i":75.17,"p":7302.1},{"name":"03/30/26 Low","i":77.76,"p":7305.9},{"name":"03/30/26 Low","i":81,"p":7306.4},{"name":"03/30/26 Low","i":83.59,"p":7308.9},{"name":"03/30/26 Low","i":87.47,"p":7309.2},{"name":"03/30/26 Low","i":90.06,"p":7311.6},{"name":"03/30/26 Low","i":93.94,"p":7312.2},{"name":"03/30/26 Low","i":95.89,"p":7313.6},{"name":"03/30/26 Low","i":99.77,"p":7314.1},{"name":"03/30/26 Low","i":102.36,"p":7315.3},{"name":"03/30/26 Low","i":105.6,"p":7315.5},{"name":"03/30/26 Low","i":107.54,"p":7317.2},{"name":"03/30/26 Low","i":112.07,"p":7317.8},{"name":"03/30/26 Low","i":114.01,"p":7320.4},{"name":"03/30/26 Low","i":117.25,"p":7320.7},{"name":"03/30/26 Low","i":119.84,"p":7323.3},{"name":"03/30/26 Low","i":123.72,"p":7323.7},{"name":"03/30/26 Low","i":125.66,"p":7326.8},{"name":"03/30/26 Low","i":134.08,"p":7327.3},{"name":"03/30/26 Low","i":136.67,"p":7329.8},{"name":"03/30/26 Low","i":140.55,"p":7330.1},{"name":"03/30/26 Low","i":142.49,"p":7332.4},{"name":"03/30/26 Low","i":146.38,"p":7332.8},{"name":"03/30/26 Low","i":148.32,"p":7335},{"name":"03/30/26 Low","i":152.85,"p":7335.4},{"name":"03/30/26 Low","i":154.79,"p":7337.3},{"name":"03/30/26 Low","i":158.68,"p":7337.6},{"name":"03/30/26 Low","i":160.62,"p":7340.1},{"name":"03/30/26 Low","i":163.85,"p":7340.4},{"name":"03/30/26 Low","i":166.44,"p":7342.7},{"name":"03/30/26 Low","i":170.33,"p":7343},{"name":"03/30/26 Low","i":172.27,"p":7345.1},{"name":"03/30/26 Low","i":176.15,"p":7345.5},{"name":"03/30/26 Low","i":178.74,"p":7348.1},{"name":"03/30/26 Low","i":182.63,"p":7348.4},{"name":"03/30/26 Low","i":184.57,"p":7351},{"name":"03/30/26 Low","i":188.45,"p":7351.4},{"name":"03/30/26 Low","i":190.4,"p":7353.1},{"name":"03/30/26 Low","i":194.28,"p":7353.5},{"name":"03/30/26 Low","i":196.87,"p":7355.2},{"name":"03/30/26 Low","i":200.75,"p":7355.8},{"name":"03/30/26 Low","i":202.7,"p":7356.8},{"name":"03/30/26 Low","i":206.58,"p":7357.2},{"name":"03/30/26 Low","i":208.52,"p":7358.4},{"name":"03/30/26 Low","i":212.41,"p":7358.7},{"name":"03/30/26 Low","i":215,"p":7360},{"name":"03/30/26 Low","i":218.88,"p":7360.1},{"name":"03/30/26 Low","i":220.82,"p":7361},{"name":"03/30/26 Low","i":224.71,"p":7361.3},{"name":"03/30/26 Low","i":226.65,"p":7362.2},{"name":"03/30/26 Low","i":230.53,"p":7362.6},{"name":"03/30/26 Low","i":232.47,"p":7363.4},{"name":"03/30/26 Low","i":237.65,"p":7363.6},{"name":"03/30/26 Low","i":242.8,"p":7364.8},{"name":"03/30/26 Low","i":248,"p":7365.3},{"name":"03/30/26 Low","i":250,"p":7366.5},
{"name":"July 16th Swing High","i":182.2,"p":7604.5},{"name":"July 16th Swing High","i":183.9,"p":7593.1},{"name":"July 16th Swing High","i":185.28,"p":7585.6},{"name":"July 16th Swing High","i":186.65,"p":7583.6},{"name":"July 16th Swing High","i":188,"p":7577.5},{"name":"July 16th Swing High","i":190.07,"p":7549.6},{"name":"July 16th Swing High","i":191.1,"p":7542.6},{"name":"July 16th Swing High","i":194.86,"p":7540},{"name":"July 16th Swing High","i":197.26,"p":7532.5},{"name":"July 16th Swing High","i":201.37,"p":7531.3},{"name":"July 16th Swing High","i":207.5,"p":7531.6},{"name":"July 16th Swing High","i":208.9,"p":7533.4},{"name":"July 16th Swing High","i":212,"p":7533.5},{"name":"July 16th Swing High","i":213.15,"p":7530.4},{"name":"July 16th Swing High","i":214,"p":7520.8},{"name":"July 16th Swing High","i":215.07,"p":7517.6},{"name":"July 16th Swing High","i":218.15,"p":7516.4},{"name":"July 16th Swing High","i":219.86,"p":7510.3},{"name":"July 16th Swing High","i":221.23,"p":7507.7},{"name":"July 16th Swing High","i":225.34,"p":7507.7},{"name":"July 16th Swing High","i":226,"p":7504.2},{"name":"July 16th Swing High","i":227.05,"p":7501.6},{"name":"July 16th Swing High","i":230.13,"p":7500.7},{"name":"July 16th Swing High","i":232.2,"p":7495.9},{"name":"July 16th Swing High","i":236.95,"p":7495},{"name":"July 16th Swing High","i":239,"p":7484.2},{"name":"July 16th Swing High","i":242.5,"p":7482.1},{"name":"July 16th Swing High","i":244.2,"p":7478.4},{"name":"July 16th Swing High","i":250,"p":7478.9},
{"name":"July 27th Low","i":227.4,"p":7442},{"name":"July 27th Low","i":231.16,"p":7438.3},{"name":"July 27th Low","i":232.87,"p":7447.2},{"name":"July 27th Low","i":234.2,"p":7448.4},{"name":"July 27th Low","i":236.64,"p":7449.8},{"name":"July 27th Low","i":237.67,"p":7443.2},{"name":"July 27th Low","i":239,"p":7429.3},{"name":"July 27th Low","i":240.4,"p":7428},{"name":"July 27th Low","i":242.8,"p":7424.9},{"name":"July 27th Low","i":245.2,"p":7429.6},{"name":"July 27th Low","i":247.94,"p":7431},{"name":"July 27th Low","i":250,"p":7439},
{"name":"May AVWAP","i":-0.54,"p":7506},{"name":"May AVWAP","i":0.83,"p":7508.6},{"name":"May AVWAP","i":4.12,"p":7509},{"name":"May AVWAP","i":6.86,"p":7513},{"name":"May AVWAP","i":9.94,"p":7513.5},{"name":"May AVWAP","i":12,"p":7515.3},{"name":"May AVWAP","i":14.05,"p":7514.2},{"name":"May AVWAP","i":19.19,"p":7513.3},{"name":"May AVWAP","i":22.96,"p":7513.3},{"name":"May AVWAP","i":24.33,"p":7509.9},{"name":"May AVWAP","i":28.09,"p":7509.2},{"name":"May AVWAP","i":30.83,"p":7505.2},{"name":"May AVWAP","i":33.91,"p":7504.3},{"name":"May AVWAP","i":35.97,"p":7501.1},{"name":"May AVWAP","i":39.74,"p":7500.6},{"name":"May AVWAP","i":46.24,"p":7500.3},{"name":"May AVWAP","i":48.64,"p":7502.4},{"name":"May AVWAP","i":52.05,"p":7503},{"name":"May AVWAP","i":54.79,"p":7504.8},{"name":"May AVWAP","i":57.88,"p":7505.1},{"name":"May AVWAP","i":60.96,"p":7506.9},{"name":"May AVWAP","i":64.38,"p":7506.9},{"name":"May AVWAP","i":66.78,"p":7508.3},{"name":"May AVWAP","i":75,"p":7508.6},{"name":"May AVWAP","i":78.08,"p":7509.7},{"name":"May AVWAP","i":80.48,"p":7509.7},{"name":"May AVWAP","i":83.56,"p":7508.1},{"name":"May AVWAP","i":86.99,"p":7507.8},{"name":"May AVWAP","i":89.73,"p":7506},{"name":"May AVWAP","i":93.15,"p":7505.7},{"name":"May AVWAP","i":95.9,"p":7503.9},{"name":"May AVWAP","i":98.97,"p":7503.7},{"name":"May AVWAP","i":102.05,"p":7501.6},{"name":"May AVWAP","i":105.5,"p":7501.1},{"name":"May AVWAP","i":108.2,"p":7501.1},{"name":"May AVWAP","i":111.65,"p":7501.3},{"name":"May AVWAP","i":113.7,"p":7501.6},{"name":"May AVWAP","i":117.5,"p":7502},{"name":"May AVWAP","i":119.9,"p":7502.5},{"name":"May AVWAP","i":123.3,"p":7502.7},{"name":"May AVWAP","i":125.35,"p":7503.4},{"name":"May AVWAP","i":133.57,"p":7503.9},{"name":"May AVWAP","i":137,"p":7504.4},{"name":"May AVWAP","i":140.4,"p":7504.8},{"name":"May AVWAP","i":142.5,"p":7505.6},{"name":"May AVWAP","i":152.06,"p":7505.6},{"name":"May AVWAP","i":154.1,"p":7506.5},{"name":"May AVWAP","i":158.9,"p":7506.9},{"name":"May AVWAP","i":160.96,"p":7507.7},{"name":"May AVWAP","i":164.4,"p":7508.3},{"name":"May AVWAP","i":166.45,"p":7509},{"name":"May AVWAP","i":172.6,"p":7510},{"name":"May AVWAP","i":176.7,"p":7510.3},{"name":"May AVWAP","i":178.77,"p":7511.6},{"name":"May AVWAP","i":183.56,"p":7512.4},{"name":"May AVWAP","i":186.3,"p":7513},{"name":"May AVWAP","i":213,"p":7513.3},{"name":"May AVWAP","i":215.75,"p":7512.1},{"name":"May AVWAP","i":220.9,"p":7511.5},{"name":"May AVWAP","i":225.3,"p":7511.2},{"name":"May AVWAP","i":227,"p":7510.7},{"name":"May AVWAP","i":232.5,"p":7510},{"name":"May AVWAP","i":236.95,"p":7509.8},{"name":"May AVWAP","i":239,"p":7507.7},{"name":"May AVWAP","i":242.5,"p":7507.2},{"name":"May AVWAP","i":250,"p":7506.3},
{"name":"June 2nd highs","i":-0.54,"p":7667.3},{"name":"June 2nd highs","i":0.83,"p":7656.8},{"name":"June 2nd highs","i":3.78,"p":7654.2},{"name":"June 2nd highs","i":5.15,"p":7648.6},{"name":"June 2nd highs","i":9.94,"p":7648.1},{"name":"June 2nd highs","i":10.97,"p":7642.9},{"name":"June 2nd highs","i":13.02,"p":7601.9},{"name":"June 2nd highs","i":15.76,"p":7595.8},{"name":"June 2nd highs","i":17.82,"p":7581.8},{"name":"June 2nd highs","i":19.05,"p":7575.4},{"name":"June 2nd highs","i":21.93,"p":7573.7},{"name":"June 2nd highs","i":22.96,"p":7571.7},{"name":"June 2nd highs","i":23.98,"p":7552.2},{"name":"June 2nd highs","i":24.87,"p":7544.7},{"name":"June 2nd highs","i":27.89,"p":7542.6},{"name":"June 2nd highs","i":29.12,"p":7536.5},{"name":"June 2nd highs","i":30.83,"p":7522.9},{"name":"June 2nd highs","i":33.91,"p":7519.4},{"name":"June 2nd highs","i":35.97,"p":7507.8},{"name":"June 2nd highs","i":36.99,"p":7505.5},{"name":"June 2nd highs","i":39.74,"p":7504.8},{"name":"June 2nd highs","i":41.8,"p":7503.4},{"name":"June 2nd highs","i":46.24,"p":7503.8},{"name":"June 2nd highs","i":48.3,"p":7509.5},{"name":"June 2nd highs","i":52.05,"p":7511.2},{"name":"June 2nd highs","i":54.45,"p":7516.5},{"name":"June 2nd highs","i":57.88,"p":7517},{"name":"June 2nd highs","i":59.93,"p":7520},{"name":"June 2nd highs","i":63.7,"p":7520.8},{"name":"June 2nd highs","i":66.78,"p":7523.4},{"name":"June 2nd highs","i":75,"p":7523.8},{"name":"June 2nd highs","i":77.05,"p":7525.2},{"name":"June 2nd highs","i":80.48,"p":7525.5},{"name":"June 2nd highs","i":83.56,"p":7520.3},{"name":"June 2nd highs","i":86.99,"p":7519.1},{"name":"June 2nd highs","i":89.73,"p":7514.7},{"name":"June 2nd highs","i":93.15,"p":7514.7},{"name":"June 2nd highs","i":95.9,"p":7510},{"name":"June 2nd highs","i":98.97,"p":7509},{"name":"June 2nd highs","i":102.05,"p":7504.8},{"name":"June 2nd highs","i":105.5,"p":7504.3},{"name":"June 2nd highs","i":108.2,"p":7503},{"name":"June 2nd highs","i":111.65,"p":7503},{"name":"June 2nd highs","i":113.7,"p":7504.2},{"name":"June 2nd highs","i":117.5,"p":7504.2},{"name":"June 2nd highs","i":119.9,"p":7505.6},{"name":"June 2nd highs","i":123.3,"p":7506},{"name":"June 2nd highs","i":125.35,"p":7506.9},{"name":"June 2nd highs","i":133.57,"p":7507.4},{"name":"June 2nd highs","i":137,"p":7510.7},{"name":"June 2nd highs","i":140.4,"p":7511},{"name":"June 2nd highs","i":142.5,"p":7512.1},{"name":"June 2nd highs","i":152.06,"p":7513},{"name":"June 2nd highs","i":154.1,"p":7514.4},{"name":"June 2nd highs","i":158.9,"p":7514.7},{"name":"June 2nd highs","i":160.96,"p":7515.1},{"name":"June 2nd highs","i":164.4,"p":7515.6},{"name":"June 2nd highs","i":166.45,"p":7517},{"name":"June 2nd highs","i":169.86,"p":7517},{"name":"June 2nd highs","i":172.6,"p":7517.7},{"name":"June 2nd highs","i":176.4,"p":7518.2},{"name":"June 2nd highs","i":178.77,"p":7520.8},{"name":"June 2nd highs","i":183.56,"p":7522.2},{"name":"June 2nd highs","i":186.3,"p":7523.1},{"name":"June 2nd highs","i":191.1,"p":7522.6},{"name":"June 2nd highs","i":213,"p":7522.5},{"name":"June 2nd highs","i":214.4,"p":7521.1},{"name":"June 2nd highs","i":217.8,"p":7520.3},{"name":"June 2nd highs","i":220.9,"p":7519},{"name":"June 2nd highs","i":224.65,"p":7519.4},{"name":"June 2nd highs","i":226.7,"p":7518.2},{"name":"June 2nd highs","i":230.1,"p":7517.3},{"name":"June 2nd highs","i":232.5,"p":7515.9},{"name":"June 2nd highs","i":236.95,"p":7515.2},{"name":"June 2nd highs","i":239,"p":7512.4},{"name":"June 2nd highs","i":242.5,"p":7511.5},{"name":"June 2nd highs","i":244.5,"p":7510.3},{"name":"June 2nd highs","i":250,"p":7509.8},
{"name":"Warsh FOMC Low","i":62.67,"p":7534.8},{"name":"Warsh FOMC Low","i":64.04,"p":7544.4},{"name":"Warsh FOMC Low","i":65.07,"p":7553},{"name":"Warsh FOMC Low","i":66.78,"p":7557.8},{"name":"Warsh FOMC Low","i":71.23,"p":7557.4},{"name":"Warsh FOMC Low","i":74.66,"p":7556.2},{"name":"Warsh FOMC Low","i":77.05,"p":7559.7},{"name":"Warsh FOMC Low","i":78.42,"p":7557.8},{"name":"Warsh FOMC Low","i":80.48,"p":7555.7},{"name":"Warsh FOMC Low","i":81.5,"p":7549.6},{"name":"Warsh FOMC Low","i":83.56,"p":7522.6},{"name":"Warsh FOMC Low","i":87.33,"p":7517.7},{"name":"Warsh FOMC Low","i":88.36,"p":7510.4},{"name":"Warsh FOMC Low","i":89.73,"p":7499.9},{"name":"Warsh FOMC Low","i":92.8,"p":7499},{"name":"Warsh FOMC Low","i":94.18,"p":7493.8},{"name":"Warsh FOMC Low","i":95.2,"p":7487.4},{"name":"Warsh FOMC Low","i":98.97,"p":7484.2},{"name":"Warsh FOMC Low","i":102.05,"p":7474.6},{"name":"Warsh FOMC Low","i":106.85,"p":7473.2},{"name":"Warsh FOMC Low","i":110.96,"p":7474.1},{"name":"Warsh FOMC Low","i":114.05,"p":7479.8},{"name":"Warsh FOMC Low","i":117.1,"p":7480.4},{"name":"Warsh FOMC Low","i":120.2,"p":7485.9},{"name":"Warsh FOMC Low","i":122.95,"p":7486.3},{"name":"Warsh FOMC Low","i":125.35,"p":7491.2},{"name":"Warsh FOMC Low","i":133.9,"p":7492.1},{"name":"Warsh FOMC Low","i":137,"p":7496.4},{"name":"Warsh FOMC Low","i":140.07,"p":7497.3},{"name":"Warsh FOMC Low","i":142.5,"p":7501.1},{"name":"Warsh FOMC Low","i":152.75,"p":7502.2},{"name":"Warsh FOMC Low","i":154.8,"p":7505.5},{"name":"Warsh FOMC Low","i":158.9,"p":7506},{"name":"Warsh FOMC Low","i":160.96,"p":7509.5},{"name":"Warsh FOMC Low","i":165.1,"p":7510.9},{"name":"Warsh FOMC Low","i":167.13,"p":7513.5},{"name":"Warsh FOMC Low","i":169.86,"p":7513.8},{"name":"Warsh FOMC Low","i":172.6,"p":7516.4},{"name":"Warsh FOMC Low","i":176.4,"p":7517},{"name":"Warsh FOMC Low","i":178.77,"p":7519.9},{"name":"Warsh FOMC Low","i":182.5,"p":7521.2},{"name":"Warsh FOMC Low","i":184.93,"p":7524.3},{"name":"Warsh FOMC Low","i":187.67,"p":7524.6},{"name":"Warsh FOMC Low","i":196.6,"p":7523.4},{"name":"Warsh FOMC Low","i":213,"p":7523.1},{"name":"Warsh FOMC Low","i":214.4,"p":7521.1},{"name":"Warsh FOMC Low","i":217.8,"p":7519.9},{"name":"Warsh FOMC Low","i":220.9,"p":7517.8},{"name":"Warsh FOMC Low","i":224.65,"p":7517.3},{"name":"Warsh FOMC Low","i":226.7,"p":7515.6},{"name":"Warsh FOMC Low","i":230.1,"p":7514.9},{"name":"Warsh FOMC Low","i":232.5,"p":7512.9},{"name":"Warsh FOMC Low","i":236.95,"p":7512.4},{"name":"Warsh FOMC Low","i":239,"p":7509.1},{"name":"Warsh FOMC Low","i":242.5,"p":7507.2},{"name":"Warsh FOMC Low","i":244.5,"p":7505.6},{"name":"Warsh FOMC Low","i":250,"p":7504.8},
{"name":"06/10/26 Low","i":32.54,"p":7335.2},{"name":"06/10/26 Low","i":33.91,"p":7353.5},{"name":"06/10/26 Low","i":35.62,"p":7381.4},{"name":"06/10/26 Low","i":36.99,"p":7401.1},{"name":"06/10/26 Low","i":39.05,"p":7404},{"name":"06/10/26 Low","i":40.76,"p":7413.6},{"name":"06/10/26 Low","i":41.8,"p":7425},{"name":"06/10/26 Low","i":43.02,"p":7431.6},{"name":"06/10/26 Low","i":44.87,"p":7433.7},{"name":"06/10/26 Low","i":45.9,"p":7435.4},{"name":"06/10/26 Low","i":46.93,"p":7444.1},{"name":"06/10/26 Low","i":48.98,"p":7474.3},{"name":"06/10/26 Low","i":51.7,"p":7477.2},{"name":"06/10/26 Low","i":52.74,"p":7483.3},{"name":"06/10/26 Low","i":54.79,"p":7503.4},{"name":"06/10/26 Low","i":57.88,"p":7505.1},{"name":"06/10/26 Low","i":59.93,"p":7513.8},{"name":"06/10/26 Low","i":61.3,"p":7516.8},{"name":"06/10/26 Low","i":64.04,"p":7517.3},{"name":"06/10/26 Low","i":66.78,"p":7523.8},{"name":"06/10/26 Low","i":75,"p":7524.8},{"name":"06/10/26 Low","i":77.05,"p":7529.2},{"name":"06/10/26 Low","i":79.45,"p":7529.5},{"name":"06/10/26 Low","i":81.5,"p":7526},{"name":"06/10/26 Low","i":83.9,"p":7518.2},{"name":"06/10/26 Low","i":87.33,"p":7517.3},{"name":"06/10/26 Low","i":90.07,"p":7508.1},{"name":"06/10/26 Low","i":93.15,"p":7507.7},{"name":"06/10/26 Low","i":95.9,"p":7499.9},{"name":"06/10/26 Low","i":98.63,"p":7499},{"name":"06/10/26 Low","i":102.05,"p":7491.5},{"name":"06/10/26 Low","i":105.5,"p":7491.2},{"name":"06/10/26 Low","i":107.2,"p":7490},{"name":"06/10/26 Low","i":111.65,"p":7490.3},{"name":"06/10/26 Low","i":113.7,"p":7492.9},{"name":"06/10/26 Low","i":117.5,"p":7493.4},{"name":"06/10/26 Low","i":119.2,"p":7496},{"name":"06/10/26 Low","i":123.3,"p":7496.4},{"name":"06/10/26 Low","i":125.35,"p":7499},{"name":"06/10/26 Low","i":133.57,"p":7499.4},{"name":"06/10/26 Low","i":136.65,"p":7502.5},{"name":"06/10/26 Low","i":140.4,"p":7503},{"name":"06/10/26 Low","i":142.5,"p":7505.1},{"name":"06/10/26 Low","i":152.06,"p":7505.8},{"name":"06/10/26 Low","i":154.1,"p":7508.3},{"name":"06/10/26 Low","i":158.9,"p":7508.6},{"name":"06/10/26 Low","i":160.96,"p":7511.6},{"name":"06/10/26 Low","i":164.4,"p":7511.8},{"name":"06/10/26 Low","i":166.45,"p":7514.2},{"name":"06/10/26 Low","i":169.86,"p":7514.2},{"name":"06/10/26 Low","i":172.6,"p":7516.4},{"name":"06/10/26 Low","i":176.4,"p":7517},{"name":"06/10/26 Low","i":178.77,"p":7519.9},{"name":"06/10/26 Low","i":183.56,"p":7521.2},{"name":"06/10/26 Low","i":186.3,"p":7523.4},{"name":"06/10/26 Low","i":191.1,"p":7522.9},{"name":"06/10/26 Low","i":213,"p":7522.5},{"name":"06/10/26 Low","i":214.4,"p":7520.4},{"name":"06/10/26 Low","i":217.8,"p":7519.4},{"name":"06/10/26 Low","i":220.9,"p":7517.6},{"name":"06/10/26 Low","i":224.65,"p":7517.6},{"name":"06/10/26 Low","i":226.7,"p":7516.1},{"name":"06/10/26 Low","i":230.1,"p":7515.9},{"name":"06/10/26 Low","i":232.5,"p":7514.2},{"name":"06/10/26 Low","i":236.95,"p":7513.8},{"name":"06/10/26 Low","i":239,"p":7509.1},{"name":"06/10/26 Low","i":242.5,"p":7508.2},{"name":"06/10/26 Low","i":244.5,"p":7507.2},{"name":"06/10/26 Low","i":250,"p":7506.5},
{"name":"June Peace Deal","i":37.34,"p":7445.9},{"name":"June Peace Deal","i":39.05,"p":7447.6},{"name":"June Peace Deal","i":40.08,"p":7452.9},{"name":"June Peace Deal","i":41.45,"p":7461.6},{"name":"June Peace Deal","i":43.02,"p":7468.5},{"name":"June Peace Deal","i":44.87,"p":7471.5},{"name":"June Peace Deal","i":45.9,"p":7473.8},{"name":"June Peace Deal","i":46.93,"p":7484.2},{"name":"June Peace Deal","i":47.61,"p":7497},{"name":"June Peace Deal","i":48.98,"p":7521.2},{"name":"June Peace Deal","i":51.7,"p":7523.4},{"name":"June Peace Deal","i":52.74,"p":7527.8},{"name":"June Peace Deal","i":54.11,"p":7544.4},{"name":"June Peace Deal","i":55.14,"p":7547.3},{"name":"June Peace Deal","i":57.88,"p":7547.8},{"name":"June Peace Deal","i":59.93,"p":7553},{"name":"June Peace Deal","i":60.96,"p":7551.3},{"name":"June Peace Deal","i":66.44,"p":7552.5},{"name":"June Peace Deal","i":75,"p":7552.5},{"name":"June Peace Deal","i":77.05,"p":7553.9},{"name":"June Peace Deal","i":80.48,"p":7553},{"name":"June Peace Deal","i":83.9,"p":7537},{"name":"June Peace Deal","i":87.33,"p":7534.8},{"name":"June Peace Deal","i":89.73,"p":7523.1},{"name":"June Peace Deal","i":93.15,"p":7522.2},{"name":"June Peace Deal","i":95.2,"p":7513.8},{"name":"June Peace Deal","i":98.97,"p":7510.4},{"name":"June Peace Deal","i":102.05,"p":7502.5},{"name":"June Peace Deal","i":105.5,"p":7501.6},{"name":"June Peace Deal","i":108.2,"p":7498.7},{"name":"June Peace Deal","i":111.65,"p":7499},{"name":"June Peace Deal","i":113.7,"p":7501.6},{"name":"June Peace Deal","i":117.5,"p":7502},{"name":"June Peace Deal","i":119.2,"p":7504.2},{"name":"June Peace Deal","i":123.3,"p":7504.6},{"name":"June Peace Deal","i":125.35,"p":7506.5},{"name":"June Peace Deal","i":133.57,"p":7506.9},{"name":"June Peace Deal","i":136.65,"p":7510},{"name":"June Peace Deal","i":140.4,"p":7510.3},{"name":"June Peace Deal","i":142.5,"p":7513},{"name":"June Peace Deal","i":152.06,"p":7513},{"name":"June Peace Deal","i":154.8,"p":7514.9},{"name":"June Peace Deal","i":158.9,"p":7515.2},{"name":"June Peace Deal","i":160.96,"p":7518.2},{"name":"June Peace Deal","i":164.4,"p":7518.5},{"name":"June Peace Deal","i":166.45,"p":7520.5},{"name":"June Peace Deal","i":169.86,"p":7521.2},{"name":"June Peace Deal","i":172.6,"p":7523.2},{"name":"June Peace Deal","i":176.4,"p":7523.9},{"name":"June Peace Deal","i":178.77,"p":7526.6},{"name":"June Peace Deal","i":183.56,"p":7527.4},{"name":"June Peace Deal","i":186.3,"p":7529.2},{"name":"June Peace Deal","i":191.1,"p":7528.5},{"name":"June Peace Deal","i":213,"p":7527.4},{"name":"June Peace Deal","i":214.4,"p":7524.6},{"name":"June Peace Deal","i":217.8,"p":7523.9},{"name":"June Peace Deal","i":220.9,"p":7522.2},{"name":"June Peace Deal","i":224.65,"p":7522.2},{"name":"June Peace Deal","i":226.7,"p":7520.4},{"name":"June Peace Deal","i":230.1,"p":7519.9},{"name":"June Peace Deal","i":232.5,"p":7518.2},{"name":"June Peace Deal","i":236.95,"p":7517.7},{"name":"June Peace Deal","i":239,"p":7513.3},{"name":"June Peace Deal","i":242.5,"p":7512.4},{"name":"June Peace Deal","i":244.5,"p":7511},{"name":"June Peace Deal","i":250,"p":7510.1},
{"name":"June AVWAP","i":-0.54,"p":7670.7},{"name":"June AVWAP","i":0.83,"p":7661.2},{"name":"June AVWAP","i":3.78,"p":7659.4},{"name":"June AVWAP","i":5.49,"p":7655.1},{"name":"June AVWAP","i":9.6,"p":7654.5},{"name":"June AVWAP","i":10.97,"p":7650.7},{"name":"June AVWAP","i":13.02,"p":7617.1},{"name":"June AVWAP","i":15.76,"p":7611.5},{"name":"June AVWAP","i":17.82,"p":7597.5},{"name":"June AVWAP","i":19.05,"p":7592.3},{"name":"June AVWAP","i":21.93,"p":7590.6},{"name":"June AVWAP","i":22.96,"p":7588.8},{"name":"June AVWAP","i":23.98,"p":7569.6},{"name":"June AVWAP","i":24.87,"p":7562.7},{"name":"June AVWAP","i":27.89,"p":7560.6},{"name":"June AVWAP","i":29.12,"p":7554},{"name":"June AVWAP","i":30.83,"p":7541.2},{"name":"June AVWAP","i":33.91,"p":7537.9},{"name":"June AVWAP","i":34.94,"p":7533},{"name":"June AVWAP","i":35.97,"p":7526.1},{"name":"June AVWAP","i":36.99,"p":7523.5},{"name":"June AVWAP","i":39.74,"p":7522.9},{"name":"June AVWAP","i":42.82,"p":7520},{"name":"June AVWAP","i":45.9,"p":7520.5},{"name":"June AVWAP","i":48.64,"p":7525.2},{"name":"June AVWAP","i":52.05,"p":7526},{"name":"June AVWAP","i":54.45,"p":7530.4},{"name":"June AVWAP","i":57.53,"p":7530.8},{"name":"June AVWAP","i":59.93,"p":7533},{"name":"June AVWAP","i":63.7,"p":7533},{"name":"June AVWAP","i":66.78,"p":7534.8},{"name":"June AVWAP","i":75,"p":7534.8},{"name":"June AVWAP","i":77.05,"p":7536.2},{"name":"June AVWAP","i":80.48,"p":7536.2},{"name":"June AVWAP","i":82.88,"p":7530.9},{"name":"June AVWAP","i":87.67,"p":7529.5},{"name":"June AVWAP","i":89.73,"p":7524.3},{"name":"June AVWAP","i":93.15,"p":7524.3},{"name":"June AVWAP","i":95.9,"p":7519.1},{"name":"June AVWAP","i":98.97,"p":7518.2},{"name":"June AVWAP","i":102.05,"p":7513.8},{"name":"June AVWAP","i":105.14,"p":7513.5},{"name":"June AVWAP","i":108.2,"p":7511.6},{"name":"June AVWAP","i":111.65,"p":7511.6},{"name":"June AVWAP","i":113.7,"p":7512.6},{"name":"June AVWAP","i":117.1,"p":7513},{"name":"June AVWAP","i":119.9,"p":7514},{"name":"June AVWAP","i":123.3,"p":7514},{"name":"June AVWAP","i":125.35,"p":7514.7},{"name":"June AVWAP","i":133.57,"p":7514.9},{"name":"June AVWAP","i":137,"p":7516.6},{"name":"June AVWAP","i":140.4,"p":7517},{"name":"June AVWAP","i":142.5,"p":7518},{"name":"June AVWAP","i":152.06,"p":7517.7},{"name":"June AVWAP","i":154.1,"p":7519.1},{"name":"June AVWAP","i":158.9,"p":7519.4},{"name":"June AVWAP","i":160.96,"p":7520.8},{"name":"June AVWAP","i":164.4,"p":7521.2},{"name":"June AVWAP","i":166.45,"p":7522.6},{"name":"June AVWAP","i":169.86,"p":7522.9},{"name":"June AVWAP","i":172.6,"p":7524},{"name":"June AVWAP","i":176,"p":7524.1},{"name":"June AVWAP","i":178.77,"p":7526.6},{"name":"June AVWAP","i":183.56,"p":7527.6},{"name":"June AVWAP","i":186.3,"p":7528.8},{"name":"June AVWAP","i":191.1,"p":7527.8},{"name":"June AVWAP","i":212.3,"p":7527.8},{"name":"June AVWAP","i":214.4,"p":7525.1},{"name":"June AVWAP","i":217.8,"p":7524.3},{"name":"June AVWAP","i":220.9,"p":7522.5},{"name":"June AVWAP","i":224.65,"p":7522.9},{"name":"June AVWAP","i":227,"p":7521.7},{"name":"June AVWAP","i":230.1,"p":7521.3},{"name":"June AVWAP","i":232.5,"p":7519.9},{"name":"June AVWAP","i":236.95,"p":7519.4},{"name":"June AVWAP","i":239,"p":7516.4},{"name":"June AVWAP","i":242.5,"p":7515.6},{"name":"June AVWAP","i":244.5,"p":7514.2},{"name":"June AVWAP","i":250,"p":7514.1}
],
"table":[
{"t":"Label","i":236,"i2":272.6,"top":7714.1,"bottom":7705.2,"p":7709.7,"lx":246.1},
{"t":"Yenmageddon Low","i":236,"i2":272.6,"top":7705.2,"bottom":7696.3,"p":7700.8,"lx":246.1,"d":240.85},
{"t":"YTD AVWAP","i":236,"i2":272.6,"top":7696.3,"bottom":7687.5,"p":7691.9,"lx":246.1,"d":240.85},
{"t":"July 27th Low","i":236,"i2":272.6,"top":7687.5,"bottom":7678.6,"p":7683,"lx":246.1,"d":240.85},
{"t":"June Peace Deal","i":236,"i2":272.6,"top":7678.6,"bottom":7669.7,"p":7674.2,"lx":246.1,"d":240.85},
{"t":"06/10/26 Low","i":236,"i2":272.6,"top":7669.7,"bottom":7660.8,"p":7665.3,"lx":246.1,"d":240.85},
{"t":"10/10/25","i":236,"i2":272.6,"top":7660.8,"bottom":7651.9,"p":7656.4,"lx":246.1,"d":240.85},
{"t":"Pakistan Peace Talks begin","i":236,"i2":272.6,"top":7651.9,"bottom":7643,"p":7647.5,"lx":246.1,"d":240.85},
{"t":"Warsh FOMC Low","i":236,"i2":272.6,"top":7643,"bottom":7634.2,"p":7638.6,"lx":246.1,"d":240.85},
{"t":"May AVWAP","i":236,"i2":272.6,"top":7634.2,"bottom":7625.2,"p":7629.7,"lx":246.1,"d":240.85},
{"t":"June AVWAP","i":236,"i2":272.6,"top":7625.2,"bottom":7616.3,"p":7620.8,"lx":246.1,"d":240.85},
{"t":"July 16th Swing High","i":236,"i2":272.6,"top":7616.3,"bottom":7607.5,"p":7611.9,"lx":246.1,"d":240.85},
{"t":"04/07 Peace Announcement","i":236,"i2":272.6,"top":7607.5,"bottom":7598.6,"p":7603.1,"lx":246.1,"d":240.85},
{"t":"03/30/26 Low","i":236,"i2":272.6,"top":7598.6,"bottom":7589.7,"p":7594.2,"lx":246.1,"d":240.85},
{"t":"Iran Hostilities Begin","i":236,"i2":272.6,"top":7589.7,"bottom":7580.8,"p":7585.3,"lx":246.1,"d":240.85},
{"t":"June 2nd highs","i":236,"i2":272.6,"top":7580.8,"bottom":7571.9,"p":7576.4,"lx":246.1,"d":240.85}
],
"tags":[
{"t":"7,514.10","name":"June AVWAP","i":274.9,"i2":287.2,"top":7554.1,"bottom":7545.2,"p":7549.7,"m":281},
{"t":"7,510.14","name":"June Peace Deal","i":274.9,"i2":287.2,"top":7545.2,"bottom":7536.3,"p":7540.8,"m":281},
{"t":"7,509.80","name":"June 2nd highs","i":274.9,"i2":287.2,"top":7536.3,"bottom":7527.4,"p":7531.9,"m":281},
{"t":"7,506.55","name":"06/10/26 Low","i":274.9,"i2":287.2,"top":7527.4,"bottom":7518.6,"p":7523,"m":281},
{"t":"7,506.26","name":"May AVWAP","i":274.9,"i2":287.2,"top":7518.6,"bottom":7509.7,"p":7514.2,"m":281},
{"t":"7,504.81","name":"Warsh FOMC Low","i":274.9,"i2":287.2,"top":7509.7,"bottom":7500.8,"p":7505.3,"m":281},
{"t":"7,494.50","name":"Last price","i":274.9,"i2":287.2,"top":7500.8,"bottom":7484.6,"p":7496.6,"m":281},
{"t":"7,479.13","name":"July 16th Swing High","i":274.9,"i2":287.2,"top":7484.6,"bottom":7475.7,"p":7480.2,"m":281},
{"t":"7,472.50","name":"Prior close","i":274.9,"i2":287.2,"top":7475.7,"bottom":7466.8,"p":7471.3,"m":281},
{"t":"7,445.78","name":"Pakistan Peace Talks begin","i":274.9,"i2":287.2,"top":7449,"bottom":7440.1,"p":7444.6,"m":281},
{"t":"7,439.00","name":"July 27th Low","i":274.9,"i2":287.2,"top":7440.1,"bottom":7431.2,"p":7435.7,"m":281},
{"t":"7,409.98","name":"04/07 Peace Announcement","i":274.9,"i2":287.2,"top":7413.5,"bottom":7404.6,"p":7409.1,"m":281},
{"t":"7,366.47","name":"03/30/26 Low","i":274.9,"i2":287.2,"top":7370.1,"bottom":7361.2,"p":7365.7,"m":281},
{"t":"ESU2026","name":"Last price","i":263.6,"i2":274.6,"top":7500.8,"bottom":7491.9,"p":7496.4,"m":269.1}
]
},
"resolve":{"scale":{"color":"independent","fill":"independent","stroke":"independent"}},
"encoding":{
"x":{"field":"i","type":"quantitative","title":null,"scale":{"domain":[-2.733,290.27],"nice":false,"zero":false,"padding":0},
"axis":{"orient":"bottom","offset":-80,"domain":false,"ticks":false,"grid":false,"title":null,"labelColor":"#b2b5be","labelFont":"Lato","labelFontSize":12,"labelPadding":0,"labelBaseline":"top","labelOverlap":false,"labelFlush":false,"values":[10,22,34,46,58,70,81,93,105,117,129,140,152,164,176,188,200,212,224,236,252,266],"labelFontWeight":{"condition":{"test":"datum.value==117||datum.value==252","value":"bold"},"value":"normal"},"labelExpr":"['5','9','11','15','17','19','23','25','29','Jul','3','7','9','13','15','17','21','23','27','29','Aug','5'][indexof([10,22,34,46,58,70,81,93,105,117,129,140,152,164,176,188,200,212,224,236,252,266],datum.value)]"}},
"y":{"field":"p","type":"quantitative","title":null,"scale":{"domain":[7210.6,7733.46],"nice":false,"zero":false,"padding":0},
"axis":{"orient":"right","offset":-20,"domain":false,"ticks":false,"grid":false,"title":null,"labelColor":"#b2b5be","labelFont":"Lato","labelFontSize":12,"labelPadding":0,"labelAlign":"right","labelOverlap":false,"labelFlush":false,"format":",.2f","values":[7260,7280,7300,7320,7340,7360,7380,7400,7420,7460,7560,7580,7600,7620,7640,7660,7680,7700]}}
},
"layer":[
{"data":{"values":[{"i":-0.68,"i2":288.2,"p":7719.3,"p2":7241.9}]},"mark":{"type":"rect","fillOpacity":0,"stroke":"#f0f3fa","strokeWidth":2},"encoding":{"x2":{"field":"i2"},"y2":{"field":"p2"}}},
{"data":{"name":"sessions"},"mark":{"type":"rect","fill":"#eef2fe"},"encoding":{"x2":{"field":"i2"},"y2":{"field":"p2"}}},
{"data":{"values":[{"i":-0.68,"i2":263.6,"p":7493.2}]},"mark":{"type":"rule","color":"#089981","strokeWidth":1,"strokeDash":[1,3]},"encoding":{"x2":{"field":"i2"}}},
{"data":{"name":"lines"},"mark":{"type":"line","interpolate":"monotone","strokeWidth":2,"strokeOpacity":0.95},"encoding":{"detail":{"field":"name"},"order":{"field":"i","type":"quantitative"},"stroke":{"field":"name","type":"nominal","legend":null,"scale":{"domain":["Pakistan Peace Talks begin","04/07 Peace Announcement","03/30/26 Low","July 16th Swing High","July 27th Low","May AVWAP","June 2nd highs","Warsh FOMC Low","06/10/26 Low","June Peace Deal","June AVWAP"],"range":["#00aa00","#800000","#1a1a1a","#808080","#ff8c00","#ff69b4","#1fffc7","#ffd700","#0066ff","#6600cc","#00bfff"]}}}},
{"data":{"name":"bars"},"mark":{"type":"rule","strokeWidth":1},"encoding":{"y":{"field":"l","type":"quantitative","title":null,"scale":{"domain":[7210.6,7733.46],"nice":false,"zero":false,"padding":0}},"y2":{"field":"h"},"color":{"condition":{"test":"datum.c>=datum.o","value":"#089981"},"value":"#f23645"}}},
{"data":{"name":"bars"},"mark":{"type":"bar","size":3},"encoding":{"y":{"field":"o","type":"quantitative","title":null,"scale":{"domain":[7210.6,7733.46],"nice":false,"zero":false,"padding":0}},"y2":{"field":"c"},"color":{"condition":{"test":"datum.c>=datum.o","value":"#089981"},"value":"#f23645"}}},
{"data":{"name":"table"},"mark":{"type":"rect","fillOpacity":0.93},"encoding":{"x2":{"field":"i2"},"y":{"field":"top","type":"quantitative","title":null,"scale":{"domain":[7210.6,7733.46],"nice":false,"zero":false,"padding":0}},"y2":{"field":"bottom"},"fill":{"field":"t","type":"nominal","legend":null,"scale":{"domain":["Label","Yenmageddon Low","YTD AVWAP","July 27th Low","June Peace Deal","06/10/26 Low","10/10/25","Pakistan Peace Talks begin","Warsh FOMC Low","May AVWAP","June AVWAP","July 16th Swing High","04/07 Peace Announcement","03/30/26 Low","Iran Hostilities Begin","June 2nd highs"],"range":["#9e9e9e","#a08fb0","#6f9090","#b09470","#8a6aa8","#7088b4","#b07070","#68986c","#b0a870","#b088a0","#6ca0b0","#8e8e8e","#8b6060","#757575","#a09078","#7ab0a4"]}}}},
{"data":{"name":"table"},"transform":[{"filter":"datum.d>0"}],"mark":{"type":"circle","size":16,"opacity":1,"dy":1},"encoding":{"x":{"field":"d","type":"quantitative","title":null,"scale":{"domain":[-2.733,290.27],"nice":false,"zero":false,"padding":0}},"fill":{"field":"t","type":"nominal","legend":null,"scale":{"domain":["Yenmageddon Low","YTD AVWAP","July 27th Low","June Peace Deal","06/10/26 Low","10/10/25","Pakistan Peace Talks begin","Warsh FOMC Low","May AVWAP","June AVWAP","July 16th Swing High","04/07 Peace Announcement","03/30/26 Low","Iran Hostilities Begin","June 2nd highs"],"range":["#c090ff","#007a7a","#ff8c00","#6600cc","#0066ff","#ff2040","#00aa00","#ffd700","#ff69b4","#00bfff","#777777","#800000","#111111","#c88a20","#1fffc7"]}}}},
{"data":{"name":"table"},"mark":{"type":"text","align":"left","baseline":"middle","font":"Lato","fontSize":10,"fontWeight":"bold","color":"#f4f4f4","dy":1},"encoding":{"x":{"field":"lx","type":"quantitative","title":null,"scale":{"domain":[-2.733,290.27],"nice":false,"zero":false,"padding":0}},"text":{"field":"t"}}},
{"data":{"values":[{"i":238.5,"p":7709.7,"t":"AVWAP"}]},"mark":{"type":"text","align":"left","baseline":"middle","font":"Lato","fontSize":9.5,"color":"#f4f4f4","dy":1},"encoding":{"text":{"field":"t"}}},
{"data":{"values":[{"i":237,"p":7709.7}]},"mark":{"type":"circle","size":12,"color":"#f4f4f4","opacity":1},"encoding":{}},
{"data":{"values":[{"i":275.5,"i2":287.4,"p":7716.4,"p2":7702.8}]},"mark":{"type":"rect","fill":"#ffffff","stroke":"#f0f3fa","strokeWidth":1.5,"cornerRadius":4},"encoding":{"x2":{"field":"i2"},"y2":{"field":"p2"}}},
{"data":{"values":[{"i":277.3,"p":7709.6,"t":"USD"}]},"mark":{"type":"text","align":"left","baseline":"middle","font":"Lato","fontSize":12,"color":"#131722"},"encoding":{"text":{"field":"t"}}},
{"data":{"name":"tags"},"mark":{"type":"rect","cornerRadius":1},"encoding":{"x2":{"field":"i2"},"y":{"field":"top","type":"quantitative","title":null,"scale":{"domain":[7210.6,7733.46],"nice":false,"zero":false,"padding":0}},"y2":{"field":"bottom"},"fill":{"field":"name","type":"nominal","legend":null,"scale":{"domain":["June AVWAP","June Peace Deal","June 2nd highs","06/10/26 Low","May AVWAP","Warsh FOMC Low","Last price","July 16th Swing High","Prior close","Pakistan Peace Talks begin","July 27th Low","04/07 Peace Announcement","03/30/26 Low"],"range":["#00bfff","#6600cc","#1fffc7","#0066ff","#ff69b4","#ffd700","#089981","#808080","#555555","#00aa00","#ff8c00","#800000","#1a1a1a"]}}}},
{"data":{"name":"tags"},"mark":{"type":"text","align":"center","baseline":"middle","font":"Lato","fontWeight":500},"encoding":{"x":{"field":"m","type":"quantitative","title":null,"scale":{"domain":[-2.733,290.27],"nice":false,"zero":false,"padding":0}},"text":{"field":"t"},"size":{"condition":{"test":"datum.t=='ESU2026'","value":11},"value":12},"color":{"condition":{"test":"indexof(['June AVWAP','June 2nd highs','Warsh FOMC Low'],datum.name)>=0","value":"#131722"},"value":"#ffffff"}}},
{"data":{"values":[{"i":281,"p":7488.8,"t":"01:14:29"}]},"mark":{"type":"text","align":"center","baseline":"middle","font":"Lato","fontSize":12,"color":"#b5e0d6"},"encoding":{"text":{"field":"t"}}},
{"data":{"values":[{"i":-0.68,"p":7725.6,"t":"Yamco2014 created with TradingView.com, Jul 31, 2026 12:45 UTC-4"}]},"mark":{"type":"text","align":"left","baseline":"middle","font":"Lato","fontSize":12,"color":"#131722"},"encoding":{"text":{"field":"t"}}},
{"data":{"values":[{"i":0.97,"p":7711.5,"t":"S&P 500 E-mini Futures · 4h · CME","kind":"name"},{"i":40.2,"p":7711.5,"t":"O","kind":"name"},{"i":42.06,"p":7711.5,"t":"7,470.50","kind":"value"},{"i":52.95,"p":7711.5,"t":"H","kind":"name"},{"i":54.8,"p":7711.5,"t":"7,501.00","kind":"value"},{"i":65.5,"p":7711.5,"t":"L","kind":"name"},{"i":67.3,"p":7711.5,"t":"7,427.50","kind":"value"},{"i":78,"p":7711.5,"t":"C","kind":"name"},{"i":79.66,"p":7711.5,"t":"7,494.50","kind":"value"},{"i":90.45,"p":7711.5,"t":"+23.75 (+0.32%)","kind":"value"}]},"mark":{"type":"text","align":"left","baseline":"middle","font":"Lato","fontSize":12},"encoding":{"text":{"field":"t"},"color":{"condition":{"test":"datum.kind=='value'","value":"#089981"},"value":"#b2b5be"}}},
{"data":{"values":[{"i":7.13,"p":7226.3,"t":"TradingView"}]},"mark":{"type":"text","align":"left","baseline":"middle","font":"Inter","fontSize":20,"fontWeight":600,"color":"#131722"},"encoding":{"text":{"field":"t"}}},
{"data":{"values":[{"i":2.81,"p":7226.3}]},"mark":{"type":"point","shape":"M-1,-.48 H-.1 V.48 H-.55 V-.1 H-1 Z M.03,-.27 a.21,.21 0 1,1 .42,0 a.21,.21 0 1,1 -.42,0 Z M.55,-.48 H1 L.55,.48 H.08 Z","size":900,"filled":true,"color":"#131722","opacity":1},"encoding":{}},
{"data":{"values":[{"i":43.9,"p":7263.4},{"i":250.1,"p":7263.4}]},"mark":{"type":"circle","size":300,"fill":"#ffffff","stroke":"#7a3ff2","strokeWidth":2,"opacity":1},"encoding":{}},
{"data":{"values":[{"i":43.9,"p":7263.4}]},"mark":{"type":"point","shape":"M-.7,-.5 L-.1,0 L-.7,.5 M-.1,0 H.7 M.3,-.4 L.7,0 L.3,.4","size":196,"filled":false,"stroke":"#7a3ff2","strokeWidth":1.6,"opacity":1},"encoding":{}},
{"data":{"values":[{"i":250.1,"p":7263.4}]},"mark":{"type":"point","shape":"M.2,-1 L-.6,.15 H-.05 L-.25,1 L.6,-.2 H.05 Z","size":120,"filled":true,"color":"#7a3ff2","opacity":1},"encoding":{}},
{"data":{"values":[{"i":251.4,"p":7267}]},"mark":{"type":"circle","size":30,"fill":"#f23645","stroke":"#ffffff","strokeWidth":1,"opacity":1},"encoding":{}}
]
}
